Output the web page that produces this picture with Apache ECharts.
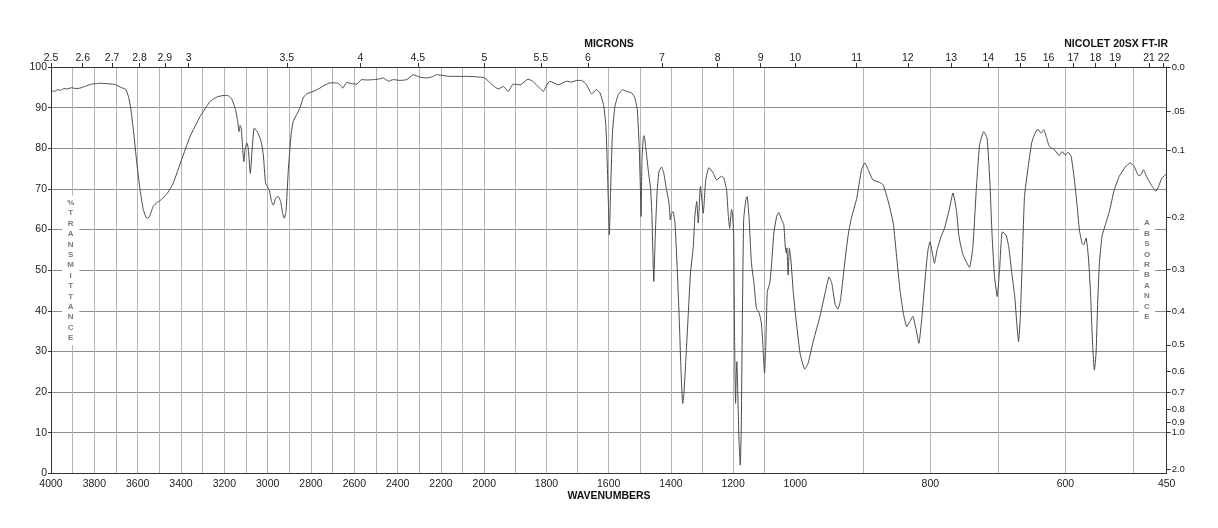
<!DOCTYPE html>
<html><head><meta charset="utf-8">
<script src="https://cdn.jsdelivr.net/npm/echarts@6/dist/echarts.min.js"></script>
<style>html,body{margin:0;padding:0;background:#fff}#c{width:1218px;height:528px}</style>
</head><body><div id="c"></div>
<script>
// ---- data ----
const wavenumbers = [
 4000,3985,3970,3955,3940,3928,3905,3885,3866,3840,3812,3790,3774,3745,3717,3700,3682,3664,3654,3643,3632,3620,3604,3589,3574,3558,3546,3528,3512,3497,3466,3436,3397,3358,3312,3266,3251,3230,3200,3180,3165,3148,3138,3132,3127,3122,3116,3110,3104,3096,3090,3080,3072,3062,3050,3043,3030,3020,3010,3002,2993,2982,2974,2963,2951,2940,2931,2923,2915,2905,2892,2882,2866,2851,2836,2820,2790,2759,2735,2712,2681,2665,2654,2635,2612,2589,2566,2540,2512,2490,2466,2443,2420,2389,2358,2328,2297,2266,2240,2220,2159,2082,2040,2000,
 1987,1971,1955,1939,1923,1907,1885,1859,1845,1832,1810,1800,1789,1762,1735,1719,1703,1687,1671,1655,1639,1628,1616,1609,1605,1601,1598,1594,1588,1580,1569,1555,1542,1526,1516,1508,1502,1498,1496,1493,1489,1486,1480,1473,1465,1461,1455,1450,1444,1438,1430,1423,1414,1406,1402,1398,1393,1387,1380,1373,1368,1362,1358,1352,1344,1337,1328,1323,1317,1312,1305,1296,1288,1278,1264,1253,1237,1230,1221,1216,1211,1205,1202,1198,1196,1194,1192,1190,1188,1185,1181,1177,1174,1170,1166,1159,1155,1149,1141,1133,1125,1116,1109,1104,1099,1095,1090,1082,1076,1069,1060,1053,1044,1037,1032,1029,1027,1023,1019,1014,1007,1000,
 993,986,981,973,963.5,956,950,946,941,937,933,928,922,917,909,902,897,892,885,875,870,863,855,850,845,840,835,830.5,826,821,817,812,807,803.5,800.5,797,794,790,784,779,772,766.5,761.5,757.6,751.7,742,737,732,727,721,716,712,708.5,705,701,697.5,693.5,688,684,680,675,672,669.4,667,664,660.6,655.7,650,646,641,636,632,628.5,623.6,616,609,605,600.4,596,591.5,586.7,583,579.3,575.3,573,569.4,565.6,562.6,559.6,557.1,554.6,552.2,549.7,545.8,540.8,535,527.6,520.2,511.3,504,498,491.5,487.5,484.4,480,473,466,462,457,450
];
const transmittance = [
 94.2,94.0,94.4,94.3,94.7,94.6,94.9,94.7,94.8,95.3,95.8,95.9,96.0,95.9,95.8,95.6,95.1,94.7,94.4,92.8,89.9,84.6,76.4,69.8,64.9,62.8,63.1,65.7,66.6,67.1,68.7,71.4,77.2,82.9,87.8,91.5,92.1,92.7,93.0,92.9,92.0,89.5,86.5,84.1,85.6,85.0,80.5,76.7,79.8,81.3,80.2,73.8,79.5,85.0,84.2,83.5,81.7,78.4,71.5,70.6,69.8,66.9,66.0,67.7,68.1,66.9,64.0,62.8,64.6,74.3,83.3,86.6,88.3,89.9,92.4,93.4,94.0,94.8,95.6,96.1,96.1,95.6,94.8,96.2,95.9,95.8,96.9,96.8,96.9,97.0,97.3,96.5,96.9,96.7,96.9,98.1,97.5,97.3,97.6,98.1,97.7,97.7,97.6,97.4,
 96.5,95.4,94.6,95.2,94.0,95.8,95.6,97.0,96.5,95.6,94.0,95.5,96.5,95.6,96.5,96.3,96.7,96.7,95.6,93.4,94.4,93.6,90.5,85.4,77.2,66.5,58.7,69.0,83.7,90.3,93.2,94.4,94.0,93.6,92.4,89.5,80.4,69.8,63.2,77.2,82.5,83.1,79.6,74.7,69.8,63.2,47.2,59.1,69.8,74.3,75.4,73.9,69.8,66.5,62.4,64.0,64.4,61.6,50.9,37.8,26.3,17.2,19.7,27.9,39.4,49.3,55.8,63.2,66.9,61.6,70.6,64.0,72.2,75.2,73.9,72.2,73.1,72.7,69.8,64.0,60.3,64.9,64.0,58.3,40.0,25.0,17.2,24.0,27.5,20.0,8.0,2.0,10.0,39.4,62.4,67.3,68.1,63.2,51.7,46.8,40.6,39.4,36.9,31.2,24.6,31.2,44.7,46.8,51.7,59.1,63.2,64.2,62.4,61.2,55.5,54.3,55.5,48.8,55.4,52.5,45.0,39.5,
 29.6,25.6,27.1,32.8,38.6,44.3,48.3,46.8,41.5,40.4,42.7,50.1,58.3,62.8,67.7,74.7,76.4,74.7,72.2,71.6,71.0,67.3,61.6,53.4,45.1,39.4,36.1,37.3,38.6,35.3,32.0,39.4,49.3,55.0,57.0,54.2,51.7,55.0,58.3,60.3,64.9,69.0,64.9,58.3,53.8,50.7,55.8,69.8,80.9,84.1,82.5,72.2,58.3,48.4,43.5,50.1,59.4,58.7,55.8,50.1,43.5,36.9,32.4,37.8,51.7,68.1,74.7,81.3,83.3,84.7,83.7,84.6,82.9,80.4,79.6,78.2,79.2,78.4,79.0,78.0,72.2,66.5,59.9,56.6,56.2,57.9,52.5,43.5,31.2,25.4,29.6,41.9,51.7,58.3,61.2,64.4,69.8,73.1,75.4,76.4,75.5,73.2,73.6,74.7,73.1,71.0,69.4,70.6,72.7,73.7
];
const sections = [[2000, 4000], [1000, 2000], [450, 1000]];
const gridLineWn = [
 [3900,3800,3700,3600,3500,3400,3300,3200,3100,3000,2900,2800,2700,2600,2500,2400,2300,2200,2100,2000],
 [1900,1800,1700,1600,1500,1400,1300,1200,1100],
 [900,800,700,600,500]
];
const wnLabels = [
 [4000,3800,3600,3400,3200,3000,2800,2600,2400,2200],
 [2000,1800,1600,1400,1200,1000],
 [800,600,450]
];
const micronTicks = [
 [2.5,2.6,2.7,2.8,2.9,3,3.5,4,4.5],
 [5,5.5,6,7,8,9,10],
 [11,12,13,14,15,16,17,18,19,21,22]
];
const transTicks = [0,10,20,30,40,50,60,70,80,90,100];
const absorbanceTicks = [0,0.05,0.1,0.2,0.3,0.4,0.5,0.6,0.7,0.8,0.9,1.0,2.0];
const absorbanceLabels = ['0.0','.05','0.1','0.2','0.3','0.4','0.5','0.6','0.7','0.8','0.9','1.0','2.0'];

// ---- chart ----
const FONT = 'Liberation Sans, Arial, Helvetica, sans-serif';
const grids = [
 {left: 51, top: 67, width: 433.3, height: 406.3},
 {left: 484.3, top: 67, width: 311, height: 406.3},
 {left: 795.3, top: 67, width: 371.4, height: 406.3}
];
// the reference's micron scale over the first panel is drawn a little compressed
const topRanges = [[1900, 4000], [1000, 2000], [450, 1000]];

const xAxes = [];
sections.forEach((s, i) => {
  xAxes.push({
    type: 'value', gridIndex: i, position: 'bottom', inverse: true, min: s[0], max: s[1],
    axisLine: {show: true, onZero: false, lineStyle: {color: '#333', width: 1}},
    axisTick: {show: false, customValues: gridLineWn[i]},
    splitLine: {show: true, lineStyle: {color: '#b4b4b4', width: 1}},
    axisLabel: {show: true, customValues: wnLabels[i], color: '#222', fontSize: 10.5, margin: 5, fontFamily: FONT,
      formatter: v => String(Math.round(v))}
  });
});
sections.forEach((s, i) => {
  const vals = micronTicks[i].map(m => 10000 / m);
  xAxes.push({
    type: 'value', gridIndex: i, position: 'top', inverse: true, min: topRanges[i][0], max: topRanges[i][1],
    axisLine: {show: true, onZero: false, lineStyle: {color: '#333', width: 1}},
    axisTick: {show: true, inside: false, length: 4, customValues: vals, lineStyle: {color: '#333'}},
    splitLine: {show: false},
    axisLabel: {show: true, customValues: vals, color: '#222', fontSize: 10.5, margin: 3, fontFamily: FONT,
      formatter: v => String(Math.round(10000 / v * 10) / 10)}
  });
});

const baseY = (i, show) => ({
  type: 'value', gridIndex: i, position: 'left', min: 0, max: 100, interval: 10,
  axisLine: {show: show, onZero: false, lineStyle: {color: '#333', width: 1}},
  axisTick: {show: show, length: 3, lineStyle: {color: '#333'}},
  axisLabel: {show: show, color: '#222', fontSize: 10.5, margin: 4, fontFamily: FONT, formatter: v => String(v)},
  splitLine: {show: true, lineStyle: {color: '#8c8c8c', width: 1}}
});
const absVals = absorbanceTicks.map(a => 100 * Math.pow(10, -a));
const yAxes = [baseY(0, true), baseY(1, false), baseY(2, false), {
  type: 'value', gridIndex: 2, position: 'right', min: 0, max: 100,
  axisLine: {show: true, onZero: false, lineStyle: {color: '#333', width: 1}},
  axisTick: {show: true, length: 4, customValues: absVals, lineStyle: {color: '#333'}},
  splitLine: {show: false},
  axisLabel: {show: true, customValues: absVals, color: '#222', fontSize: 9.5, margin: 5, fontFamily: FONT,
    formatter: v => {
      let best = 0, d = 1e9;
      absVals.forEach((t, k) => { if (Math.abs(t - v) < d) { d = Math.abs(t - v); best = k; } });
      return absorbanceLabels[best];
    }}
}];

const series = sections.map((s, i) => ({
  type: 'line', xAxisIndex: i, yAxisIndex: i, symbol: 'none', smooth: 0.15, animation: false,
  lineStyle: {color: '#4a4a4a', width: 1}, z: 5,
  data: wavenumbers.map((w, k) => [w, transmittance[k]]).filter(p => p[0] >= s[0] && p[0] <= s[1])
}));

const vText = (txt, x, y) => ({
  type: 'text', x: x, y: y, z: 50,
  style: {text: txt.split('').join('\n'), fill: '#7a7a7a', font: 'bold 8px ' + FONT, lineHeight: 10.4,
    align: 'center', verticalAlign: 'top', backgroundColor: '#fff', padding: [2, 5]}
});

const chart = echarts.init(document.getElementById('c'), null, {renderer: 'canvas'});
chart.setOption({
  animation: false,
  backgroundColor: '#fff',
  grid: grids.map(g => Object.assign({containLabel: false}, g)),
  xAxis: xAxes,
  yAxis: yAxes,
  series: series,
  graphic: [
    {type: 'text', x: 609, y: 44, z: 50, style: {text: 'MICRONS', fill: '#111', font: 'bold 10.5px ' + FONT, align: 'center', verticalAlign: 'middle'}},
    {type: 'text', x: 1168, y: 44, z: 50, style: {text: 'NICOLET 20SX FT-IR', fill: '#111', font: 'bold 10.5px ' + FONT, align: 'right', verticalAlign: 'middle'}},
    {type: 'text', x: 609, y: 496, z: 50, style: {text: 'WAVENUMBERS', fill: '#111', font: 'bold 10.5px ' + FONT, align: 'center', verticalAlign: 'middle'}},
    vText('%TRANSMITTANCE', 70.7, 195.5),
    vText('ABSORBANCE', 1147, 216)
  ]
});
</script></body></html>
